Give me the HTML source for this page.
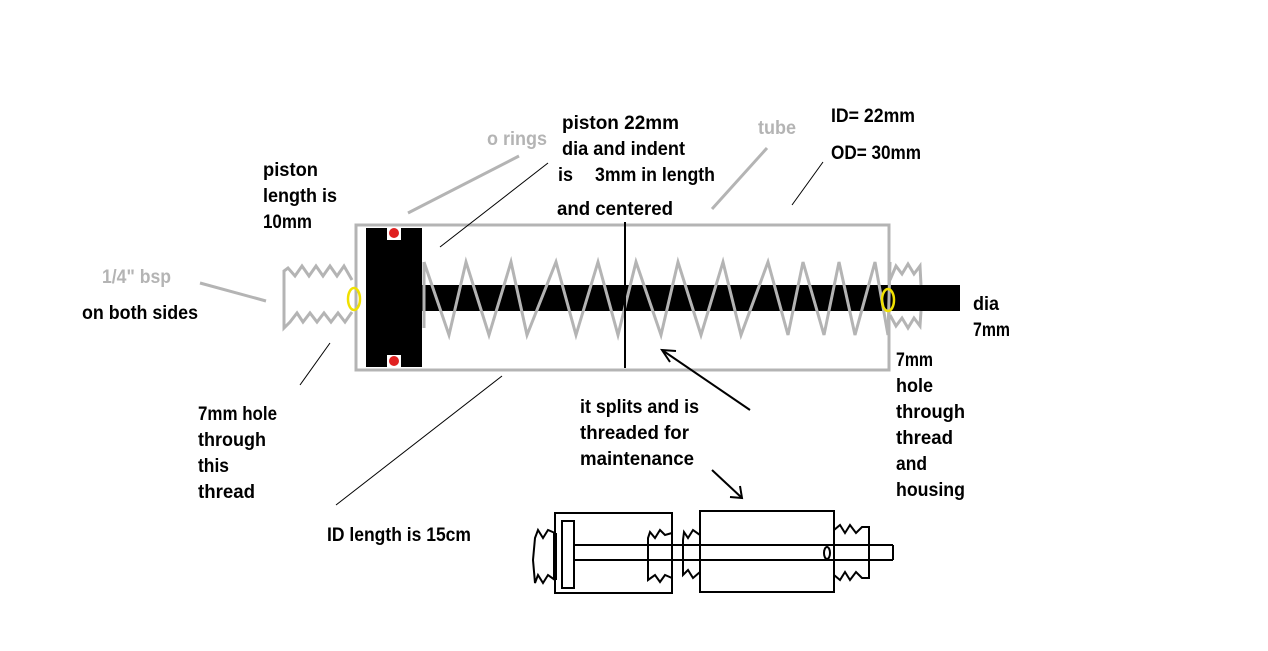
<!DOCTYPE html>
<html><head><meta charset="utf-8"><style>
html,body{margin:0;padding:0;background:#fff;}
svg{display:block}
text{font-family:"Liberation Sans",sans-serif;font-weight:bold;font-size:19px;fill:#000}
.g{fill:#b4b4b4}
</style></head><body>
<svg width="1268" height="651" viewBox="0 0 1268 651" xmlns="http://www.w3.org/2000/svg">
<rect width="1268" height="651" fill="#fff"/>
<rect x="356" y="225" width="533" height="145" fill="none" stroke="#b4b4b4" stroke-width="3"/>
<rect x="421" y="285" width="539" height="26" fill="#000"/>
<rect x="366" y="228" width="56" height="139" fill="#000"/>
<rect x="387" y="228" width="14" height="12" fill="#fff"/>
<rect x="387" y="355" width="14" height="12" fill="#fff"/>
<circle cx="394" cy="233" r="5" fill="#e02020"/>
<circle cx="394" cy="361" r="5" fill="#e02020"/>
<polyline fill="none" stroke="#b4b4b4" stroke-width="3" points="424,262 449,335 466,262 489,335 511,262 527,335 556,262 576,335 598,262 618,335 636,262 661,335 678,262 701,335 723,262 741,335 768,262 788,335 803,262 824,335 839,262 855,335 875,262 888,335 890,262"/>
<line x1="424" y1="262" x2="424" y2="328" stroke="#b4b4b4" stroke-width="3"/>
<line x1="625" y1="222" x2="625" y2="368" stroke="#000" stroke-width="2"/>
<polyline fill="none" stroke="#b4b4b4" stroke-width="3" points="352,280 344,266 337,276 330,266 323,276 316,266 309,276 302,266 295,276 288,268 284,271 284,328 290,322 297,313 303,322 310,313 317,322 324,313 331,322 338,313 345,322 352,312"/>
<ellipse cx="354" cy="299" rx="6" ry="11" fill="none" stroke="#f0e000" stroke-width="2.5"/>
<polyline fill="none" stroke="#b4b4b4" stroke-width="3" points="890,280 896,266 902,274 908,264 914,274 920,266 921,285"/>
<polyline fill="none" stroke="#b4b4b4" stroke-width="3" points="890,315 896,326 902,318 908,328 914,318 920,326 921,311"/>
<ellipse cx="888" cy="300" rx="6" ry="11" fill="none" stroke="#f0e000" stroke-width="2.5"/>
<g stroke="#b4b4b4" stroke-width="3">
<line x1="200" y1="283" x2="266" y2="301"/>
<line x1="408" y1="213" x2="519" y2="156"/>
<line x1="712" y1="209" x2="767" y2="148"/>
</g>
<g stroke="#000" stroke-width="1">
<line x1="440" y1="247" x2="548" y2="163"/>
<line x1="792" y1="205" x2="823" y2="162"/>
<line x1="300" y1="385" x2="330" y2="343"/>
<line x1="336" y1="505" x2="502" y2="376"/>
</g>
<g stroke="#000" stroke-width="2" fill="none">
<polyline points="750,410 662,350"/>
<polyline points="676,351 662,350 670,362"/>
<polyline points="712,470 742,498"/>
<polyline points="740,486 742,498 730,497"/>
</g>
<g lengthAdjust="spacingAndGlyphs">
<text x="263" y="176" textLength="55" lengthAdjust="spacingAndGlyphs">piston</text>
<text x="263" y="202" textLength="74" lengthAdjust="spacingAndGlyphs">length is</text>
<text x="263" y="228" textLength="49" lengthAdjust="spacingAndGlyphs">10mm</text>
<text class="g" x="487" y="145" textLength="60" lengthAdjust="spacingAndGlyphs">o rings</text>
<text x="562" y="129" textLength="117" lengthAdjust="spacingAndGlyphs">piston 22mm</text>
<text x="562" y="155" textLength="123" lengthAdjust="spacingAndGlyphs">dia and indent</text>
<text x="558" y="181" textLength="15" lengthAdjust="spacingAndGlyphs">is</text>
<text x="595" y="181" textLength="120" lengthAdjust="spacingAndGlyphs">3mm in length</text>
<text x="557" y="215" textLength="116" lengthAdjust="spacingAndGlyphs">and centered</text>
<text class="g" x="758" y="134" textLength="38" lengthAdjust="spacingAndGlyphs">tube</text>
<text x="831" y="122" textLength="84" lengthAdjust="spacingAndGlyphs">ID= 22mm</text>
<text x="831" y="159" textLength="90" lengthAdjust="spacingAndGlyphs">OD= 30mm</text>
<text class="g" x="102" y="283" textLength="69" lengthAdjust="spacingAndGlyphs">1/4" bsp</text>
<text x="82" y="319" textLength="116" lengthAdjust="spacingAndGlyphs">on both sides</text>
<text x="973" y="310" textLength="26" lengthAdjust="spacingAndGlyphs">dia</text>
<text x="973" y="336" textLength="37" lengthAdjust="spacingAndGlyphs">7mm</text>
<text x="896" y="366" textLength="37" lengthAdjust="spacingAndGlyphs">7mm</text>
<text x="896" y="392" textLength="37" lengthAdjust="spacingAndGlyphs">hole</text>
<text x="896" y="418" textLength="69" lengthAdjust="spacingAndGlyphs">through</text>
<text x="896" y="444" textLength="57" lengthAdjust="spacingAndGlyphs">thread</text>
<text x="896" y="470" textLength="31" lengthAdjust="spacingAndGlyphs">and</text>
<text x="896" y="496" textLength="69" lengthAdjust="spacingAndGlyphs">housing</text>
<text x="198" y="420" textLength="79" lengthAdjust="spacingAndGlyphs">7mm hole</text>
<text x="198" y="446" textLength="68" lengthAdjust="spacingAndGlyphs">through</text>
<text x="198" y="472" textLength="31" lengthAdjust="spacingAndGlyphs">this</text>
<text x="198" y="498" textLength="57" lengthAdjust="spacingAndGlyphs">thread</text>
<text x="580" y="413" textLength="119" lengthAdjust="spacingAndGlyphs">it splits and is</text>
<text x="580" y="439" textLength="109" lengthAdjust="spacingAndGlyphs">threaded for</text>
<text x="580" y="465" textLength="114" lengthAdjust="spacingAndGlyphs">maintenance</text>
<text x="327" y="541" textLength="144" lengthAdjust="spacingAndGlyphs">ID length is 15cm</text>
</g>
<g stroke="#000" stroke-width="2" fill="none">
<rect x="555" y="513" width="117" height="80"/>
<rect x="562" y="521" width="12" height="67"/>
<rect x="700" y="511" width="134" height="81"/>
<line x1="575" y1="545" x2="893" y2="545"/>
<line x1="575" y1="560" x2="893" y2="560"/>
<line x1="893" y1="545" x2="893" y2="560"/>
<polyline points="555,533 548,530 543,538 538,530 535,538 533,560 535,583 538,575 543,583 548,575 555,580"/>
<line x1="555" y1="533" x2="555" y2="580" stroke-width="4"/>
<polyline points="672,533 665,535 660,530 655,538 650,532 648,538 648,580 655,575 660,582 665,575 672,578"/>
<polyline points="700,535 693,530 688,538 684,532 683,540 683,575 688,570 693,578 700,572"/>
<polyline points="834,530 840,525 845,533 850,525 856,533 862,527 869,527 869,578 862,578 856,572 850,580 845,572 840,580 834,575"/>
<ellipse cx="827" cy="553" rx="3" ry="6"/>
</g>
</svg>
</body></html>
